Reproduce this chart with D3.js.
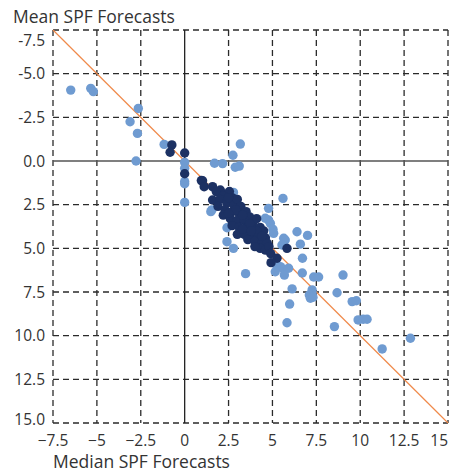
<!DOCTYPE html>
<html>
<head>
<meta charset="utf-8">
<script src="https://cdn.jsdelivr.net/npm/d3@7"></script>
<style>
  body { margin: 0; background: #fff; }
  text { font-family: "Open Sans", sans-serif; fill: #333; }
</style>
</head>
<body>
<svg class="canvas" width="453" height="474"></svg>
<script>
// tick values
const xTicks = [-7.5, -5, -2.5, 0, 2.5, 5, 7.5, 10, 12.5, 15];
const yTicks = [-7.5, -5, -2.5, 0, 2.5, 5, 7.5, 10, 12.5, 15];

// [median, mean] pairs, light series
const lightPoints = [
  [-6.49, -4.06], [-5.35, -4.16], [-5.2, -3.97], [-2.64, -3.01], [-3.11, -2.25],
  [-2.69, -1.58], [-2.77, 0.0], [-1.17, -0.95], [0.0, 0.08], [0.0, 0.42],
  [0.0, 1.18], [0.0, 1.3], [0.0, 2.37], [3.17, -0.97], [2.75, -0.33],
  [1.7, 0.13], [2.16, 0.15], [2.88, 0.36], [3.11, 0.29], [2.78, 1.8],
  [1.55, 2.8], [1.49, 2.9], [2.41, 3.82], [2.41, 4.62], [2.78, 5.0],
  [3.47, 6.45], [5.6, 2.14], [4.78, 2.71], [4.78, 3.38], [4.59, 3.28],
  [4.88, 3.57], [5.03, 3.91], [5.07, 4.14], [6.4, 4.05], [7.0, 4.26],
  [5.73, 4.52], [5.64, 4.42], [5.54, 4.81], [6.59, 4.76], [6.71, 5.57],
  [5.22, 5.95], [5.45, 6.05], [5.16, 6.34], [5.64, 6.2], [5.92, 6.14],
  [5.68, 6.53], [6.7, 6.41], [7.35, 6.64], [7.63, 6.64], [9.02, 6.53],
  [6.12, 7.32], [7.26, 7.38], [7.26, 7.61], [7.1, 7.67], [7.16, 7.86],
  [7.31, 7.8], [8.68, 7.54], [9.54, 8.05], [9.78, 8.0], [5.98, 8.19],
  [5.83, 9.26], [8.53, 9.48], [9.88, 9.1], [10.17, 9.06], [10.39, 9.06],
  [11.25, 10.76], [12.86, 10.15]
];

// [median, mean] pairs, dark series
const darkPoints = [
  [-0.73, -0.92], [-0.83, -0.5], [0.0, -0.46], [0.0, 0.73], [0.95, 1.12],
  [1.02, 1.13], [1.11, 1.47], [1.59, 1.47], [2.03, 1.66], [1.59, 2.23],
  [1.8, 1.75], [2.3, 1.9], [2.55, 1.75], [2.7, 2.1], [2.2, 2.0],
  [2.0, 2.2], [2.4, 2.4], [2.8, 2.5], [3.0, 2.2], [3.2, 2.6],
  [1.9, 2.6], [2.3, 2.8], [2.7, 2.9], [3.1, 3.0], [3.5, 2.9],
  [3.7, 3.2], [2.2, 3.1], [2.6, 3.3], [3.0, 3.4], [3.4, 3.4],
  [3.9, 3.5], [4.1, 3.3], [2.7, 3.7], [3.1, 3.8], [3.5, 3.8],
  [3.9, 3.9], [4.3, 3.8], [4.5, 4.0], [3.0, 4.2], [3.4, 4.2],
  [3.8, 4.3], [4.2, 4.3], [4.6, 4.4], [3.6, 4.5], [4.0, 4.6],
  [4.4, 4.7], [4.7, 4.7], [4.3, 5.0], [4.6, 5.1], [4.8, 4.9],
  [4.9, 5.3], [5.83, 5.0], [5.26, 5.57], [4.92, 5.82],
  [2.5, 2.1], [2.9, 2.8], [3.3, 3.1], [3.7, 3.6], [4.1, 4.0],
  [3.3, 3.9], [2.5, 3.0], [4.4, 4.3], [4.0, 4.9], [3.8, 4.0]
];

const margin = { left: 53, right: 448, top: 30, bottom: 423 };

const x = d3.scaleLinear().domain([-7.5, 15]).range([margin.left, margin.right]);
const y = d3.scaleLinear().domain([-7.5, 15]).range([margin.top, margin.bottom]);

const svg = d3.select(".canvas");

// dashed grid
const grid = svg.append("g").attr("stroke", "#2a2a2a").attr("stroke-width", 1.3)
  .attr("stroke-dasharray", "6,4");
grid.selectAll("line.v")
  .data(xTicks.filter(d => d !== 0))
  .enter()
  .append("line")
  .attr("class", "v")
  .attr("x1", d => x(d)).attr("x2", d => x(d))
  .attr("y1", y(-7.5)).attr("y2", y(15));
grid.selectAll("line.h")
  .data(yTicks.filter(d => d !== 0))
  .enter()
  .append("line")
  .attr("class", "h")
  .attr("x1", x(-7.5)).attr("x2", x(15))
  .attr("y1", d => y(d)).attr("y2", d => y(d));

// zero lines
svg.append("line")
  .attr("x1", x(0)).attr("x2", x(0))
  .attr("y1", y(-7.5)).attr("y2", y(15))
  .attr("stroke", "#222").attr("stroke-width", 1.3);
svg.append("line")
  .attr("x1", x(-7.5)).attr("x2", x(15))
  .attr("y1", y(0)).attr("y2", y(0))
  .attr("stroke", "#555").attr("stroke-width", 1.3);

// 45 degree line
svg.append("line")
  .attr("x1", x(-7.5)).attr("y1", y(-7.5))
  .attr("x2", x(15)).attr("y2", y(15))
  .attr("stroke", "#f08a4b").attr("stroke-width", 1.2);

// points
svg.append("g").selectAll("circle")
  .data(lightPoints)
  .enter()
  .append("circle")
  .attr("cx", d => x(d[0]))
  .attr("cy", d => y(d[1]))
  .attr("r", 4.7)
  .attr("fill", "#6f9bd1");

svg.append("g").selectAll("circle")
  .data(darkPoints)
  .enter()
  .append("circle")
  .attr("cx", d => x(d[0]))
  .attr("cy", d => y(d[1]))
  .attr("r", 4.7)
  .attr("fill", "#1c3163");

// tick labels (end labels kept inside the plot height)
const yFmt = d => d < 0 ? "-" + Math.abs(d).toFixed(1) : d.toFixed(1);
const yPos = d => Math.min(Math.max(y(d), 40), 419) + 5.5;
svg.append("g").selectAll("text")
  .data(yTicks)
  .enter()
  .append("text")
  .attr("x", 45)
  .attr("y", yPos)
  .attr("text-anchor", "end")
  .style("font-size", "15.5px")
  .text(yFmt);

const xFmt = d => (d < 0 ? "\u2212" : "") + Math.abs(d);
svg.append("g").selectAll("text")
  .data(xTicks)
  .enter()
  .append("text")
  .attr("x", d => d === 15 ? 448 : x(d))
  .attr("y", 446)
  .attr("text-anchor", d => d === 15 ? "end" : "middle")
  .style("font-size", "15.5px")
  .text(xFmt);

// axis titles
svg.append("text")
  .attr("x", 13).attr("y", 23)
  .style("font-size", "17.5px")
  .text("Mean SPF Forecasts");
svg.append("text")
  .attr("x", 53).attr("y", 468)
  .style("font-size", "17.5px")
  .text("Median SPF Forecasts");
</script>
</body>
</html>
